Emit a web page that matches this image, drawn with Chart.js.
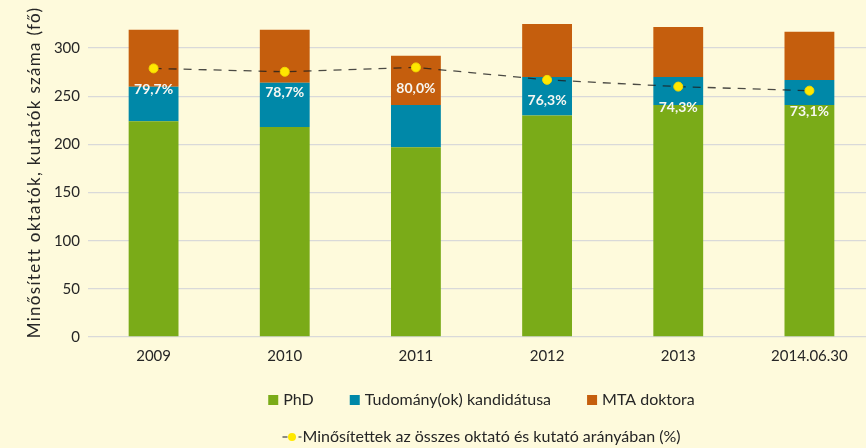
<!DOCTYPE html>
<html>
<head>
<meta charset="utf-8">
<script src="https://cdn.jsdelivr.net/npm/chart.js@4.4.0/dist/chart.umd.min.js"></script>
<style>
html, body { margin: 0; padding: 0; overflow: hidden; background: #fefadc; }
#keret { width: 876px; height: 448px; }
</style>
</head>
<body>
<div id="keret"><canvas id="grafika" width="876" height="448"></canvas></div>
<script>
// Adatok
const evek = ['2009', '2010', '2011', '2012', '2013', '2014.06.30'];
const phd = [224, 218, 197, 230, 241, 241];
const kandidatus = [36, 46, 44, 40, 29, 26];
const mtaDoktor = [59, 55, 51, 55, 52, 50];
const arany = [79.7, 78.7, 80.0, 76.3, 74.3, 73.1];
const yLepes = 50;
const yMax = 300;
const yCim = 'Minősített oktatók, kutatók száma (fő)';

const betu = 'Lato, "Open Sans", sans-serif';
const szoveg = '#262626';

// Százalék feliratok a pontok alatt
const aranyCimkek = {
    id: 'aranyCimkek',
    afterDatasetsDraw(chart) {
        const meta = chart.getDatasetMeta(3);
        const ctx = chart.ctx;
        ctx.save();
        ctx.font = 'bold 14px ' + betu;
        ctx.fillStyle = '#f7f7f2';
        ctx.textAlign = 'center';
        ctx.textBaseline = 'middle';
        meta.data.forEach((pt, i) => {
            ctx.fillText(arany[i].toFixed(1).replace('.', ',') + '%', pt.x, pt.y + 21);
        });
        ctx.restore();
    }
};

// Függőleges tengelycím, ritkított betűkkel
const tengelyCim = {
    id: 'tengelyCim',
    afterDraw(chart) {
        const ctx = chart.ctx;
        const ca = chart.chartArea;
        ctx.save();
        ctx.translate(35, (ca.top + ca.bottom) / 2 + 4);
        ctx.rotate(-Math.PI / 2);
        ctx.font = '17px ' + betu;
        ctx.letterSpacing = '1.3px';
        ctx.fillStyle = szoveg;
        ctx.textAlign = 'center';
        ctx.textBaseline = 'middle';
        ctx.fillText(yCim, 0, 0);
        ctx.restore();
    }
};

// Jelmagyarázat két sorban
const jelmagyarazat = {
    id: 'jelmagyarazat',
    afterDraw(chart) {
        const ctx = chart.ctx;
        const ca = chart.chartArea;
        const kozep = (ca.left + ca.right) / 2;
        ctx.save();
        ctx.font = '16px ' + betu;
        ctx.textBaseline = 'middle';

        const oszlopok = chart.data.datasets.filter(d => d.type !== 'line');
        const szel = oszlopok.map(d => 15 + ctx.measureText(d.label).width);
        const koz = 36;
        const teljes = szel.reduce((a, b) => a + b, 0) + koz * (oszlopok.length - 1);
        let x = kozep - teljes / 2;
        const sor1 = 400;
        oszlopok.forEach((d, i) => {
            ctx.fillStyle = d.backgroundColor;
            ctx.fillRect(x, sor1 - 5, 10, 10);
            ctx.fillStyle = szoveg;
            ctx.fillText(d.label, x + 15, sor1);
            x += szel[i] + koz;
        });

        const vonal = chart.data.datasets.find(d => d.type === 'line');
        const sor2 = 437;
        const w = 20 + ctx.measureText(vonal.label).width;
        x = kozep - w / 2;
        ctx.strokeStyle = '#666';
        ctx.lineWidth = 1.5;
        ctx.setLineDash([5, 3]);
        ctx.beginPath();
        ctx.moveTo(x, sor2);
        ctx.lineTo(x + 19, sor2);
        ctx.stroke();
        ctx.setLineDash([]);
        ctx.fillStyle = vonal.pointBackgroundColor;
        ctx.beginPath();
        ctx.arc(x + 9.5, sor2, 4, 0, Math.PI * 2);
        ctx.fill();
        ctx.fillStyle = szoveg;
        ctx.fillText(vonal.label, x + 20, sor2);
        ctx.restore();
    }
};

const ctx = document.getElementById('grafika').getContext('2d');
new Chart(ctx, {
    data: {
        labels: evek,
        datasets: [
            { type: 'bar', label: 'PhD', data: phd, backgroundColor: '#7aab18', order: 1 },
            { type: 'bar', label: 'Tudomány(ok) kandidátusa', data: kandidatus, backgroundColor: '#0088a8', order: 1 },
            { type: 'bar', label: 'MTA doktora', data: mtaDoktor, backgroundColor: '#c55e0d', order: 1 },
            {
                type: 'line',
                label: 'Minősítettek az összes oktató és kutató arányában (%)',
                data: arany,
                yAxisID: 'y1',
                order: 0,
                borderColor: 'rgba(30,30,30,0.8)',
                borderWidth: 1.3,
                borderDash: [8, 7],
                pointRadius: 4.5,
                pointBackgroundColor: '#ffe800',
                pointBorderColor: '#f2d800',
                pointBorderWidth: 1,
                tension: 0
            }
        ]
    },
    options: {
        responsive: false,
        animation: false,
        events: [],
        layout: { autoPadding: false, padding: { top: 0, left: 0, right: 1, bottom: 0 } },
        datasets: { bar: { categoryPercentage: 1, barPercentage: 0.38 } },
        plugins: { legend: { display: false }, tooltip: { enabled: false } },
        scales: {
            x: {
                stacked: true,
                grid: { display: false, drawTicks: false },
                border: { display: false },
                ticks: { color: szoveg, font: { family: betu, size: 15 }, padding: 10, maxRotation: 0 },
                afterFit(s) {
                    s.height = 111;
                    s.paddingLeft = 0;
                    s.paddingRight = 0;
                }
            },
            y: {
                stacked: true,
                min: 0,
                max: 350,
                afterBuildTicks(s) {
                    s.ticks = s.ticks.filter(t => t.value <= yMax);
                },
                ticks: { stepSize: yLepes, color: szoveg, font: { family: betu, size: 15 }, padding: 8 },
                grid: { color: '#d9d9d9', lineWidth: 1.3, drawTicks: false },
                border: { display: false },
                afterFit(s) {
                    s.width = 88;
                    s.paddingTop = 0;
                    s.paddingBottom = 0;
                }
            },
            y1: { display: false, min: 0, max: 100 }
        }
    },
    plugins: [aranyCimkek, tengelyCim, jelmagyarazat]
});
</script>
</body>
</html>
